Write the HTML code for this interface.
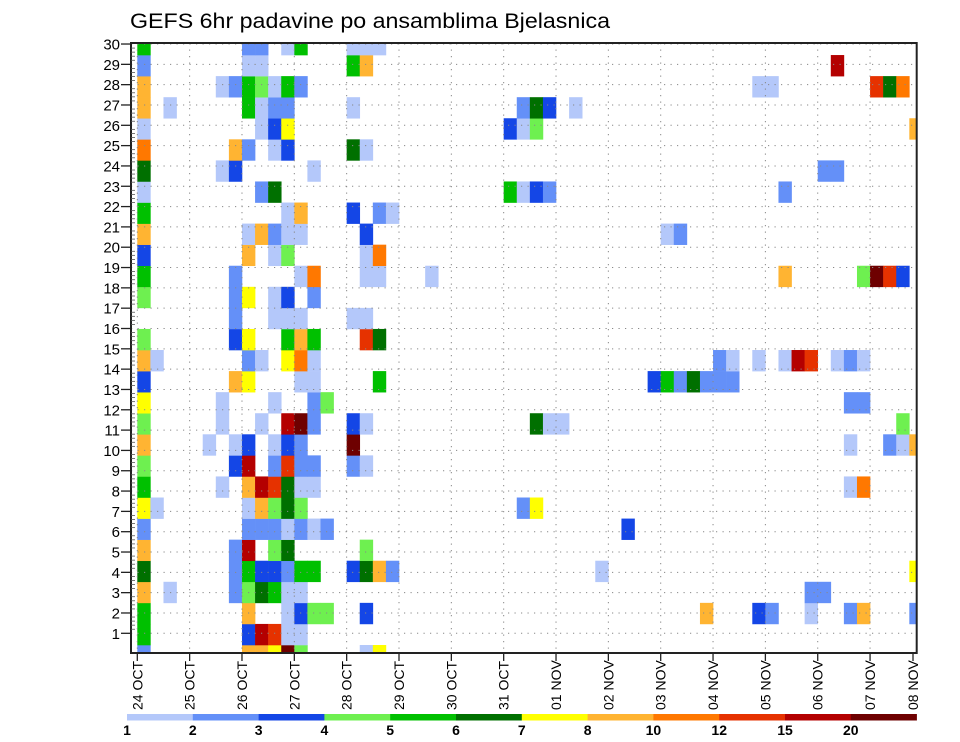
<!DOCTYPE html>
<html><head><meta charset="utf-8"><style>
html,body{margin:0;padding:0;background:#fff}
svg{display:block}
text{font-family:"Liberation Sans",sans-serif;fill:#000}
</style></head><body>
<svg id="chart" width="960" height="742" viewBox="0 0 960 742" xmlns="http://www.w3.org/2000/svg">
<rect x="0" y="0" width="960" height="742" fill="#fff"/>
<text x="130" y="28" font-size="21" textLength="480" lengthAdjust="spacingAndGlyphs">GEFS 6hr padavine po ansamblima Bjelasnica</text>
<defs><clipPath id="plotclip"><rect x="131" y="43" width="785.7" height="610"/></clipPath></defs>
<g id="cells" clip-path="url(#plotclip)"></g>
<g id="grid"></g>
<rect x="131" y="43" width="785.7" height="610" fill="none" stroke="#222" stroke-width="2"/>
<g id="yaxis"></g>
<g id="xaxis"></g>
<g id="cbar"></g>
</svg>
<script>
// ---- data ----
const dayLabels = ["24 OCT","25 OCT","26 OCT","27 OCT","28 OCT","29 OCT","30 OCT","31 OCT","01 NOV","02 NOV","03 NOV","04 NOV","05 NOV","06 NOV","07 NOV","08 NOV"];
const memberLabels = [1,2,3,4,5,6,7,8,9,10,11,12,13,14,15,16,17,18,19,20,21,22,23,24,25,26,27,28,29,30];
const levelLabels = ["1","2","3","4","5","6","7","8","10","12","15","20"];
const levels = [1,2,3,4,5,6,7,8,10,12,15,20];
const levelColors = ["#b4c8fa","#6490f8","#1446e6","#6ef050","#00c000","#007000","#ffff00","#ffb432","#ff7800","#e63200","#b40000","#6e0000"];
// cells per member row: "step:value" (value in mm / 6h)
const row29 = "0:5.5 8:2.5 9:2.5 11:1.5 12:5.5 16:1.5 17:1.5 18:1.5";
const row28 = "0:2.5 8:1.5 9:1.5 16:5.5 17:9 53:17";
const row27 = "0:9 6:1.5 7:2.5 8:5.5 9:4.5 10:1.5 11:5.5 12:2.5 47:1.5 48:1.5 56:13 57:6.5 58:11";
const row26 = "0:9 2:1.5 8:5.5 9:1.5 10:2.5 11:2.5 16:1.5 29:2.5 30:6.5 31:3.5 33:1.5";
const row25 = "0:1.5 9:1.5 10:3.5 11:7.5 28:3.5 29:1.5 30:4.5 59:9";
const row24 = "0:11 7:9 8:2.5 10:1.5 11:3.5 16:6.5 17:1.5";
const row23 = "0:6.5 6:1.5 7:3.5 13:1.5 52:2.5 53:2.5";
const row22 = "0:1.5 9:2.5 10:6.5 28:5.5 29:1.5 30:3.5 31:2.5 49:2.5";
const row21 = "0:5.5 11:1.5 12:9 16:3.5 18:2.5 19:1.5";
const row20 = "0:9 8:1.5 9:9 10:2.5 11:1.5 12:1.5 17:3.5 40:1.5 41:2.5";
const row19 = "0:3.5 8:9 10:1.5 11:4.5 17:1.5 18:11";
const row18 = "0:5.5 7:2.5 12:1.5 13:11 17:1.5 18:1.5 22:1.5 49:9 55:4.5 56:25 57:13 58:3.5";
const row17 = "0:4.5 7:2.5 8:7.5 10:1.5 11:3.5 13:2.5";
const row16 = "7:2.5 10:1.5 11:1.5 12:1.5 16:1.5 17:1.5";
const row15 = "0:4.5 7:3.5 8:7.5 11:5.5 12:9 13:5.5 17:13 18:6.5";
const row14 = "0:9 1:1.5 8:2.5 9:1.5 11:7.5 12:11 13:1.5 44:2.5 45:1.5 47:1.5 49:1.5 50:17 51:13 53:1.5 54:2.5 55:1.5";
const row13 = "0:3.5 7:9 8:7.5 12:1.5 13:1.5 18:5.5 39:3.5 40:5.5 41:2.5 42:6.5 43:2.5 44:2.5 45:2.5";
const row12 = "0:7.5 6:1.5 10:1.5 13:2.5 14:4.5 54:2.5 55:2.5";
const row11 = "0:4.5 6:1.5 9:1.5 11:17 12:25 13:2.5 16:3.5 17:1.5 30:6.5 31:1.5 32:1.5 58:4.5";
const row10 = "0:9 5:1.5 7:1.5 8:3.5 10:1.5 11:3.5 12:2.5 16:25 54:1.5 57:2.5 58:1.5 59:9";
const row9  = "0:4.5 7:3.5 8:17 10:2.5 11:13 12:2.5 13:2.5 16:2.5 17:1.5";
const row8  = "0:5.5 6:1.5 8:9 9:17 10:13 11:6.5 12:1.5 13:1.5 54:1.5 55:11";
const row7  = "0:7.5 1:1.5 8:1.5 9:9 10:4.5 11:6.5 12:4.5 29:2.5 30:7.5";
const row6  = "0:2.5 8:2.5 9:2.5 10:2.5 11:1.5 12:2.5 13:1.5 14:2.5 37:3.5";
const row5  = "0:9 7:2.5 8:17 10:4.5 11:6.5 17:4.5";
const row4  = "0:6.5 7:2.5 8:5.5 9:3.5 10:3.5 11:2.5 12:5.5 13:5.5 16:3.5 17:6.5 18:9 19:2.5 35:1.5 59:7.5";
const row3  = "0:9 2:1.5 7:2.5 8:4.5 9:6.5 10:5.5 11:1.5 12:1.5 51:2.5 52:2.5";
const row2  = "0:5.5 8:9 11:1.5 12:3.5 13:4.5 14:4.5 17:3.5 43:9 47:3.5 48:2.5 51:1.5 54:2.5 55:9 59:2.5";
const row1  = "0:5.5 8:3.5 9:17 10:13 11:1.5 12:1.5";
const row0  = "0:2.5 8:9 9:9 10:7.5 11:25 12:4.5 17:1.5 18:7.5";
const memberRows = [row0,row1,row2,row3,row4,row5,row6,row7,row8,row9,row10,row11,row12,row13,row14,row15,row16,row17,row18,row19,row20,row21,row22,row23,row24,row25,row26,row27,row28,row29];

// ---- scales ----
const NS = "http://www.w3.org/2000/svg";
const X0 = 137.3, STEPW = 13.085;          // 6-hour step width
const xScale = s => X0 + s * STEPW;
const ROWH = 21.07;
const yScale = m => 645 - ROWH * m;        // top of member cell
const labelY = L => 633.3 - (L - 1) * 20.32;
function colorFor(v){ let c = null; for (let i=0;i<levels.length;i++){ if (v >= levels[i]) c = levelColors[i]; } return c; }
function mk(tag, attrs, parent){ const e = document.createElementNS(NS, tag); for (const k in attrs) e.setAttribute(k, attrs[k]); parent.appendChild(e); return e; }

// ---- cells ----
const cellsG = document.getElementById('cells');
memberRows.forEach((rowStr, m) => {
  rowStr.split(' ').forEach(tok => {
    const [s, v] = tok.split(':').map(Number);
    const col = colorFor(v);
    if (!col) return;
    const r = mk('rect', {x: xScale(s), y: yScale(m), width: STEPW + 0.3, height: ROWH + 0.3, fill: col}, cellsG);
    
    
  });
});

// ---- grid ----
const gridG = document.getElementById('grid');
memberLabels.forEach(L => {
  const l = mk('line', {x1: 131, x2: 916.7, y1: labelY(L), y2: labelY(L), stroke: '#888', 'stroke-width': 1, 'stroke-dasharray': '1.2,5.3'}, gridG);
  
  
});
dayLabels.forEach((d, i) => {
  const x = xScale(i * 4);
  if (x > 916) return;
  const l = mk('line', {x1: x, x2: x, y1: 43, y2: 653, stroke: '#888', 'stroke-width': 1, 'stroke-dasharray': '1.2,5.3'}, gridG);
  
  
});

// ---- y axis ----
const yG = document.getElementById('yaxis');
memberLabels.forEach(L => {
  const y = labelY(L);
  const t = mk('line', {x1: 121, x2: 131, y1: y, y2: y, stroke: '#222', 'stroke-width': 1.3}, yG);
  
  
  const tx = mk('text', {x: 120, y: y + 5.5, 'font-size': 15, 'text-anchor': 'end'}, yG);
  tx.textContent = L;
  
  
  for (let q = 1; q < 5; q++) {
    const yy = y - q * 20.32 / 5;
    if (yy < 44) break;
    mk('line', {x1: 131, x2: 135, y1: yy, y2: yy, stroke: '#555', 'stroke-width': 0.8}, yG);
  }
});

// ---- x axis ----
const xG = document.getElementById('xaxis');
dayLabels.forEach((d, i) => {
  let x = xScale(i * 4);
  if (x > 916) x = 913;
  const t = mk('line', {x1: x, x2: x, y1: 653, y2: 661, stroke: '#222', 'stroke-width': 1.3}, xG);
  
  
  const tx = mk('text', {x: 0, y: 0, 'font-size': 14, transform: `translate(${x + 5},710) rotate(-90)`, 'xml:space': 'preserve'}, xG);
  tx.textContent = d.replace(' ', '  ');
  
  
});

// ---- color bar ----
const cbG = document.getElementById('cbar');
const CB0 = 127, CBW = 65.8;
levelColors.forEach((c, i) => {
  const r = mk('rect', {x: CB0 + i * CBW, y: 714, width: CBW + 0.3, height: 6.5, fill: c}, cbG);
  
  
});
levelLabels.forEach((lab, i) => {
  const tx = mk('text', {x: CB0 + i * CBW, y: 735, 'font-size': 14, 'font-weight': 'bold', 'text-anchor': 'middle'}, cbG);
  tx.textContent = lab;
  
  
});
</script>
</body></html>
